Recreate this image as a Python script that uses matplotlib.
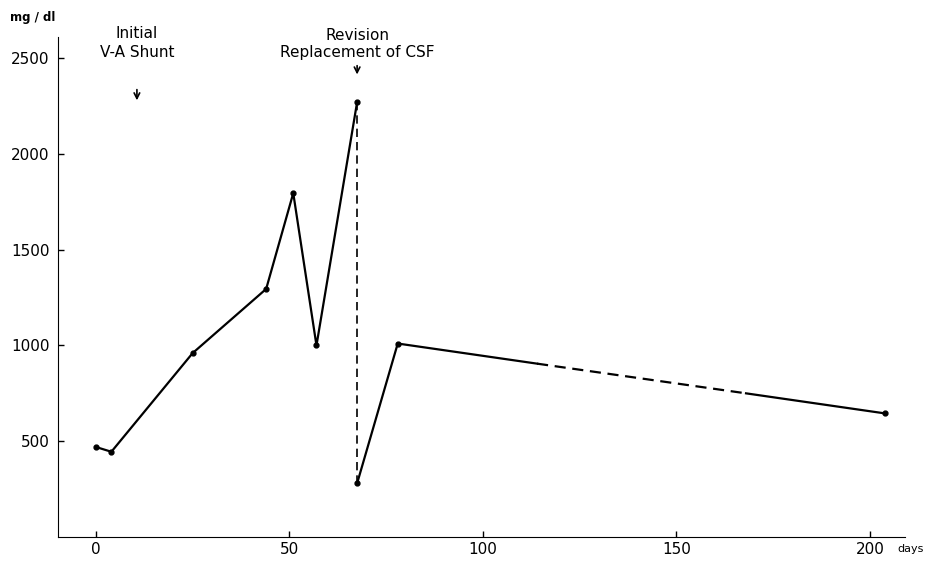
import matplotlib
matplotlib.use("Agg")
import matplotlib.pyplot as plt

# measured points (days, mg/dl)
days = [0, 4, 25, 44, 51, 57, 67.5]
vals = [470, 445, 960, 1295, 1795, 1000, 2270]
days2 = [67.5, 78]
vals2 = [280, 1010]
# later course: solid, unknown part dashed, solid
late_days = [78, 114, 168, 204]
late_vals = [1010, 905, 750, 645]

xticks = [0, 50, 100, 150, 200]
yticks = [500, 1000, 1500, 2000, 2500]
ytick_labels = ["500", "1000", "1500", "2000", "2500"]

plt.rcParams['font.family'] = ['DejaVu Sans']
fig = plt.figure(figsize=(9.26, 5.66), dpi=100)
ax = fig.add_axes([0.0626, 0.0512, 0.9144, 0.8834])

ax.plot(days, vals, color='black', lw=1.6, marker='o', ms=3.5)
ax.plot([days[-1], days2[0]], [vals[-1], vals2[0]], color='black', lw=1.2,
        ls=(0, (5, 3)))
ax.plot(days2, vals2, color='black', lw=1.6, marker='o', ms=3.5)
ax.plot(late_days[:2], late_vals[:2], color='black', lw=1.6)
ax.plot(late_days[1:3], late_vals[1:3], color='black', lw=1.6, ls=(0, (5, 3)))
ax.plot(late_days[2:], late_vals[2:], color='black', lw=1.6)
ax.plot([late_days[-1]], [late_vals[-1]], color='black', marker='o', ms=3.5)

ax.set_xlim(-9.8, 209)
ax.set_ylim(0, 2610)
ax.set_xticks(xticks)
ax.set_yticks(yticks)
ax.set_yticklabels(ytick_labels)
ax.tick_params(direction='in', length=4, labelsize=11, width=1)
ax.tick_params(axis='y', pad=6)
ax.spines['top'].set_visible(False)
ax.spines['right'].set_visible(False)

ax.text(-10.5, 2713, "mg / dl", fontsize=8.5, ha='right', va='center',
        fontweight='bold', clip_on=False)
ax.text(207, -62, "days", fontsize=8, ha='left', va='center', clip_on=False)

ax.text(10.6, 2630, "Initial", ha='center', va='center', fontsize=11, clip_on=False)
ax.text(10.6, 2531, "V-A Shunt", ha='center', va='center', fontsize=11, clip_on=False)
ax.annotate('', xy=(10.6, 2265), xytext=(10.6, 2350),
            arrowprops=dict(arrowstyle='->', color='black', lw=1.2))

ax.text(67.5, 2620, "Revision", ha='center', va='center', fontsize=11, clip_on=False)
ax.text(67.5, 2531, "Replacement of CSF", ha='center', va='center', fontsize=11,
        clip_on=False)
ax.annotate('', xy=(67.5, 2400), xytext=(67.5, 2475),
            arrowprops=dict(arrowstyle='->', color='black', lw=1.2))

fig.savefig("out.png", dpi=100)
